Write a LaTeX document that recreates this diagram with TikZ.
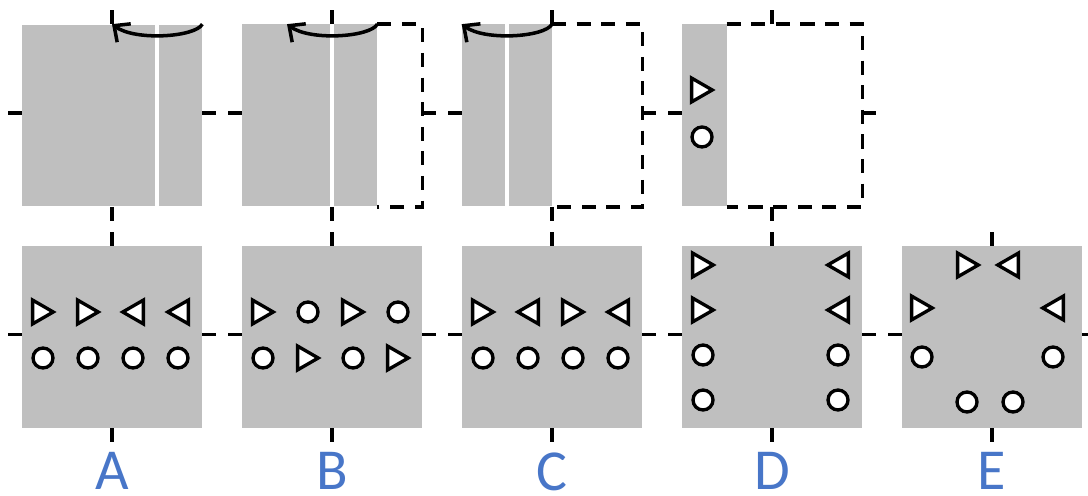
\documentclass[tikz,border=0pt]{standalone}
\usepackage{fontspec}
\newfontfamily\labelfont{Carlito}
\usepackage{tikz}
\usetikzlibrary{positioning, shapes.geometric, arrows.meta}
\definecolor{panelgray}{RGB}{191,191,191}
\definecolor{labelblue}{RGB}{72,118,200}

\begin{document}
\begin{tikzpicture}[x=0.02cm, y=-0.02cm,
                sheet/.style={minimum width=3.6cm, minimum height=3.64cm, inner sep=0pt},
                full/.style={sheet, fill=panelgray},
                crease/.style={draw=white, line width=2pt},
                flap/.style={draw, line width=1.9pt, dash pattern=on 8pt off 6pt},
                axtick/.style={line width=2pt},
                fold/.style={line width=2pt, -{Straight Barb[length=7pt, width=13pt]}},
                tri/.style={regular polygon, regular polygon sides=3, draw, fill=white,
                  line width=1.9pt, minimum size=0.55cm, inner sep=0pt},
                triR/.style={tri, shape border rotate=-90, xshift=-0.07cm},
                triL/.style={tri, shape border rotate=90, xshift=0.07cm},
                ring/.style={circle, draw, fill=white, line width=1.9pt, minimum size=0.4cm, inner sep=0pt},
                lbl/.style={text=labelblue, inner sep=0pt, font=\labelfont\fontsize{33}{33}\selectfont}
                ]
  \useasboundingbox (0,0) rectangle (1088,496);
  % top row: folding the sheet
  \node [full] (tA) at (112,115.5) {};
  \node [sheet] (tB) at (332,115.5) {};
  \node [sheet] (tC) at (552,115.5) {};
  \node [sheet] (tD) at (772,115.5) {};
  \fill [panelgray] (tB.north west) rectangle ++(135,182);
  \fill [panelgray] (tC.north west) rectangle ++(90,182);
  \fill [panelgray] (tD.north west) rectangle ++(45,182);
  \draw [crease] ([xshift=0.9cm]tA.north) -- ([xshift=0.9cm]tA.south);
  \draw [crease] (tB.north) -- (tB.south);
  \draw [crease] ([xshift=-0.9cm]tC.north) -- ([xshift=-0.9cm]tC.south);
  \draw [flap] ([xshift=-0.9cm]tB.north east) -- (tB.north east) -- (tB.south east) -- ([xshift=-0.9cm]tB.south east);
  \draw [flap] (tC.north) -- (tC.north east) -- (tC.south east) -- (tC.south);
  \draw [flap] ([xshift=0.9cm]tD.north west) -- (tD.north east) -- (tD.south east) -- ([xshift=0.9cm]tD.south west);
  \draw [fold] (tA.north east) .. controls +(-7,13) and +(23,17) .. (tA.north);
  \draw [fold] ([xshift=-0.9cm]tB.north east) .. controls +(-7,13) and +(23,17) .. ([xshift=-0.9cm]tB.north);
  \draw [fold] (tC.north) .. controls +(-7,13) and +(23,17) .. (tC.north west);
  \node [triR] (tD-t1) at (702,90) {};
  \node [ring] (tD-c1) at (702,137) {};
  % bottom row: where the marks end up
  \node [full] (bA) at (112,337) {};
  \node [full] (bB) at (332,337) {};
  \node [full] (bC) at (552,337) {};
  \node [full] (bD) at (772,337) {};
  \node [full] (bE) at (992,337) {};
  \node [triR] (bA-t1) at (43,312) {};  \node [triR] (bA-t2) at (88,312) {};
  \node [triL] (bA-t3) at (133,312) {}; \node [triL] (bA-t4) at (178,312) {};
  \node [ring] (bA-c1) at (43,358) {};  \node [ring] (bA-c2) at (88,358) {};
  \node [ring] (bA-c3) at (133,358) {}; \node [ring] (bA-c4) at (178,358) {};
  \node [triR] (bB-t1) at (263,312) {}; \node [ring] (bB-c1) at (308,312) {};
  \node [triR] (bB-t2) at (353,312) {}; \node [ring] (bB-c2) at (398,312) {};
  \node [ring] (bB-c3) at (263,358) {}; \node [triR] (bB-t3) at (308,358) {};
  \node [ring] (bB-c4) at (353,358) {}; \node [triR] (bB-t4) at (398,358) {};
  \node [triR] (bC-t1) at (483,312) {}; \node [triL] (bC-t2) at (528,312) {};
  \node [triR] (bC-t3) at (573,312) {}; \node [triL] (bC-t4) at (618,312) {};
  \node [ring] (bC-c1) at (483,358) {}; \node [ring] (bC-c2) at (528,358) {};
  \node [ring] (bC-c3) at (573,358) {}; \node [ring] (bC-c4) at (618,358) {};
  \node [triR] (bD-t1) at (703,265) {}; \node [triL] (bD-t2) at (838,265) {};
  \node [triR] (bD-t3) at (703,310) {}; \node [triL] (bD-t4) at (838,310) {};
  \node [ring] (bD-c1) at (703,355) {}; \node [ring] (bD-c2) at (838,355) {};
  \node [ring] (bD-c3) at (703,400) {}; \node [ring] (bD-c4) at (838,400) {};
  \node [triR] (bE-t1) at (968,265) {}; \node [triL] (bE-t2) at (1008,265) {};
  \node [triR] (bE-t3) at (922,308) {}; \node [triL] (bE-t4) at (1053,308) {};
  \node [ring] (bE-c1) at (922,357) {}; \node [ring] (bE-c2) at (1053,357) {};
  \node [ring] (bE-c3) at (967,402) {}; \node [ring] (bE-c4) at (1013,402) {};
  % centre marks round every sheet
  \foreach \s in {tA,tB,tC,tD,bA,bB,bC,bD,bE} {
    \draw [axtick] (\s.north) -- ++(0,-14);
    \draw [axtick] (\s.south) -- ++(0,14);
    \draw [axtick] ([yshift=0.05cm]\s.west) -- ++(-14,0);
    \draw [axtick] ([yshift=0.05cm]\s.east) -- ++(14,0);
  }
  \node [lbl, below=0.48cm of bA] (labA) {A};
  \node [lbl, below=0.48cm of bB] (labB) {B};
  \node [lbl, below=0.48cm of bC] (labC) {C};
  \node [lbl, below=0.48cm of bD] (labD) {D};
  \node [lbl, below=0.48cm of bE] (labE) {E};
\end{tikzpicture}
\end{document}
